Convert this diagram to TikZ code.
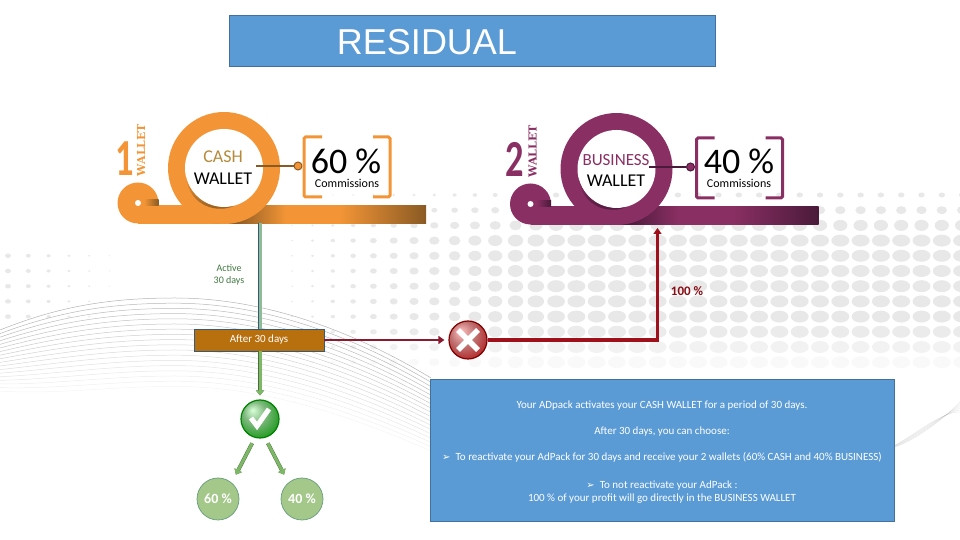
\documentclass[tikz,border=0pt]{standalone}
\usepackage{fontspec}
\setmainfont{Carlito}
\newfontfamily\titlefont{Liberation Sans}
\newfontfamily\slabfont{DejaVu Serif}
\newfontfamily\symbfont{DejaVu Sans}
\usetikzlibrary{arrows.meta, positioning, calc, shadings}
\definecolor{sblue}{HTML}{5B9BD5}
\definecolor{sblueline}{HTML}{41719C}
\definecolor{scash}{HTML}{F39536}
\definecolor{scashdark}{HTML}{8A5A24}
\definecolor{scashname}{HTML}{B58A3A}
\definecolor{sbiz}{HTML}{8A2F63}
\definecolor{sbizdark}{HTML}{4A1A3A}
\definecolor{sgreen}{HTML}{7DB867}
\definecolor{sgreenpale}{HTML}{8FBC94}
\definecolor{sgreenfill}{HTML}{A3C88A}
\definecolor{sred}{HTML}{A0101A}
\definecolor{swine}{HTML}{8B1A2E}
\definecolor{sbrown}{HTML}{B8700F}
\pgfdeclarehorizontalshading{scashband}{100bp}{color(0bp)=(scash); color(38bp)=(scash); color(41.7bp)=(scashdark); color(50.7bp)=(scash); color(60bp)=(scash); color(75bp)=(scashdark); color(100bp)=(scashdark)}
\pgfdeclarehorizontalshading{sbizband}{100bp}{color(0bp)=(sbiz); color(38bp)=(sbiz); color(41.7bp)=(sbizdark); color(50.7bp)=(sbiz); color(60bp)=(sbiz); color(75bp)=(sbizdark); color(100bp)=(sbizdark)}
\pgfdeclareradialshading{softgreen}{\pgfpoint{-10bp}{12bp}}{color(0bp)=(green!15!white); color(14bp)=(green!45!black!50!white); color(30bp)=(green!55!black!85!white); color(50bp)=(green!60!black)}
\pgfdeclareradialshading{softred}{\pgfpoint{-10bp}{12bp}}{color(0bp)=(red!25!white); color(16bp)=(red!55!black!55!white); color(32bp)=(red!65!black!85!white); color(50bp)=(red!55!black)}
\newcommand{\fs}[1]{\fontsize{#1}{12}\selectfont}
\tikzset{
  x=1pt, y=1pt,
  bluebox/.style={
    draw=sblueline, fill=sblue, line width=0.8pt, inner sep=0pt
  },
  pct/.style={
    circle, draw=sgreen!60!sblueline, fill=sgreenfill, line width=0.7pt, minimum size=42pt,
    inner sep=0pt, text=white, font=\fs{14}\bfseries
  },
  markball/.style={
    circle, draw=#1, line width=1.2pt, minimum size=38pt, inner sep=0pt
  },
  greenarr/.style={
    draw=sgreen, line width=3pt, -{Triangle[length=5pt,width=8pt]},
    preaction={draw=sgreen!60!black, line width=3.8pt}
  },
  redarr/.style={draw=#1, -{Triangle[length=6pt,width=8pt]}},
  bigword/.style={font=\fs{#1}\bfseries},
  ringword/.style={font=\fs{#1}, inner sep=0pt},
  wave/.style={draw=black!50, line width=0.5pt},
  pics/wallet/.style 2 args={code={
    % band, then the curl and the ring over it
    \shade[shading=#1band] (-86,-55.5) rectangle (202,-38);
    \fill[#1] (-86,-35) circle[radius=20.5];
    \shade[left color=#1, right color=#2] (-80,-38) rectangle (-65.5,-32);
    \fill[white] (-86,-35) circle[radius=3];
    \fill[#1] (0,0) circle[radius=56];
    \fill[white] (0,0) circle[radius=39];
    \shade[top color=#1, bottom color=#2]
      (-38,-9) arc[start angle=193, end angle=285, radius=39]
      .. controls (-5,-45) and (-34,-40) .. (-38,-9);
    % tap line, dot and brackets
    \coordinate (-tap) at (32,2);
    \node[circle, fill=#1, draw=#2, line width=1pt, minimum size=8pt, inner sep=0pt] (-dot) at (74,2) {};
    \draw[#2, line width=2.6pt] (-tap) -- (-dot);
    \draw[#1, line width=3pt, rounded corners=1.5pt] (98,31) -- (80,31) -- (80,-29) -- (98,-29);
    \draw[#1, line width=3pt, rounded corners=1.5pt] (149,31) -- (166,31) -- (166,-29) -- (149,-29);
  }}
}
\begin{document}
\begin{tikzpicture}
  \useasboundingbox (0,0) rectangle (960,540);
  % dots behind everything
  \foreach \k in {0,...,12} {
    \foreach \n in {0,...,47} {
      \pgfmathsetmacro\dotx{8+20.3*\n}
      \pgfmathsetmacro\doty{195+15.2*\k}
      \pgfmathsetmacro\grow{\dotx<140 ? (\doty>250 && \doty<320 ? (140-\dotx)*0.0025 : 0) : max(0,min(1,(\dotx-260)/300))}
      \pgfmathsetmacro\rx{9*\grow*min(1,max(0.3,(\doty-170)/70))}
      \pgfmathsetmacro\ry{min(6,0.78*\rx)}
      \pgfmathsetmacro\op{min(1,(375-\doty)/50)}
      \ifdim\rx pt>0.4pt
        \fill[black!9, opacity=\op] (\dotx,540-\doty) ellipse[x radius=\rx, y radius=\ry];
      \fi
    }
  }
  % waves
  \foreach \i in {0,...,17} {
    \pgfmathsetmacro\op{0.6-0.03*\i}
    \draw[wave, opacity=\op] (0,{210-3.6*\i}) .. controls (60,{234-5.2*\i}) and (110,{242-5.2*\i}) .. (175,{242-5.2*\i})
      .. controls (270,{242-5.2*\i}) and (360,{205-5*\i}) .. (431,{162-4.3*\i});
  }
  \foreach \i in {0,...,5} {
    \draw[wave, opacity=0.16] (895,{93+0.4*\i}) .. controls (915,{100+\i}) and (940,{118+2*\i}) .. (960,{138-2*\i});
  }

  % title
  \node[bluebox, minimum width=486pt, minimum height=51pt] (title) at (472,499.5) {};
  \node[text=white, font=\titlefont\fs{36}] (titletext) at (427,498) {RESIDUAL};

  % wallets
  \pic (cash) at (224,372) {wallet={scash}{scashdark}};
  \pic (biz) at (616.5,371) {wallet={sbiz}{sbizdark}};

  \node[bigword=52, text=scash, xscale=0.7] (cashno) at (125,381) {1};
  \node[font=\slabfont\fs{11}\bfseries, text=scash, rotate=90] (cashtag) at (141,390) {WALLET};
  \node[ringword=18, text=scashname] (cashname) at (223,383) {CASH};
  \node[ringword=18] (cashwallet) at (223,361) {WALLET};
  \node[font=\fs{36}, inner sep=0pt, anchor=base] (cashpct) at (346,366) {60 \%};
  \node[font=\fs{12}, inner sep=0pt, anchor=base] (cashcom) at (347,352.5) {Commissions};

  \node[bigword=52, text=sbiz, xscale=0.7] (bizno) at (515,381) {2};
  \node[font=\slabfont\fs{11}\bfseries, text=sbiz, rotate=90] (biztag) at (532.5,388.5) {WALLET};
  \node[ringword=17, text=sbiz] (bizname) at (616,380) {BUSINESS};
  \node[ringword=18] (bizwallet) at (616,359) {WALLET};
  \node[font=\fs{36}, inner sep=0pt, anchor=base] (bizpct) at (739,366) {40 \%};
  \node[font=\fs{12}, inner sep=0pt, anchor=base] (bizcom) at (739,352.5) {Commissions};

  % flow
  \coordinate (cashfoot) at (260,317);
  \coordinate (bizfoot) at (657.5,312);
  \node[draw=sblueline!80!black, fill=sbrown, line width=0.6pt, minimum width=130pt, minimum height=22pt,
    inner sep=0pt, text=white, font=\fs{11}] (after) at (259,200) {After 30 days};
  \node[markball=green!50!black, shading=softgreen] (check) at (260,121) {};
  \node[markball=red!50!black, shading=softred] (cross) at (468,200) {};
  \node[pct] (sixty) at (218,41) {60 \%};
  \node[pct] (forty) at (302,41) {40 \%};
  \node[text=green!30!black!75!white, align=center, font=\fs{10}, inner sep=0pt] (active) at (229,265) {Active\\30 days};
  \node[text=sred!85!black, font=\fs{13}\bfseries, inner sep=0pt] (hundred) at (687,249) {100 \%};

  \draw[sgreenpale, line width=3pt, preaction={draw=sblueline!80!black, line width=4pt}] (cashfoot) -- (cashfoot |- after.north);
  \draw[greenarr, shorten >=4pt] (check |- after.south) -- (check);
  \draw[greenarr, shorten <=6pt, shorten >=9pt] (check.255) -- (sixty.50);
  \draw[greenarr, shorten <=6pt, shorten >=9pt] (check.285) -- (forty.130);
  \draw[redarr=swine, line width=2.4pt, shorten >=4pt] (after.east) -- (cross.west);
  \draw[redarr=sred, line width=3.6pt] (cross.east) -| (bizfoot);

  \begin{scope}[shift={(check.center)}]
    \draw[white, line width=5pt] (-9,1) -- (-3,-7) -- (9,10);
  \end{scope}
  \begin{scope}[shift={(cross.center)}]
    \draw[white, line width=5.5pt] (-10,-10) -- (10,10) (-10,10) -- (10,-10);
  \end{scope}

  % text box
  \node[bluebox, minimum width=464pt, minimum height=142pt] (notes) at (662,90) {};
  \node[text=white, align=center, inner sep=0pt, font=\fs{11}] (notestext) at (662,88) {%
    Your ADpack activates your CASH WALLET for a period of 30 days.\\[14pt]
    After 30 days, you can choose:\\[14pt]
    {\symbfont\fs{10}➢}\ \ To reactivate your AdPack for 30 days and receive your 2 wallets (60\% CASH and 40\% BUSINESS)\\[16pt]
    {\symbfont\fs{10}➢}\ \ To not reactivate your AdPack :\\[1pt]
    100 \% of your profit will go directly in the BUSINESS WALLET};
\end{tikzpicture}
\end{document}
